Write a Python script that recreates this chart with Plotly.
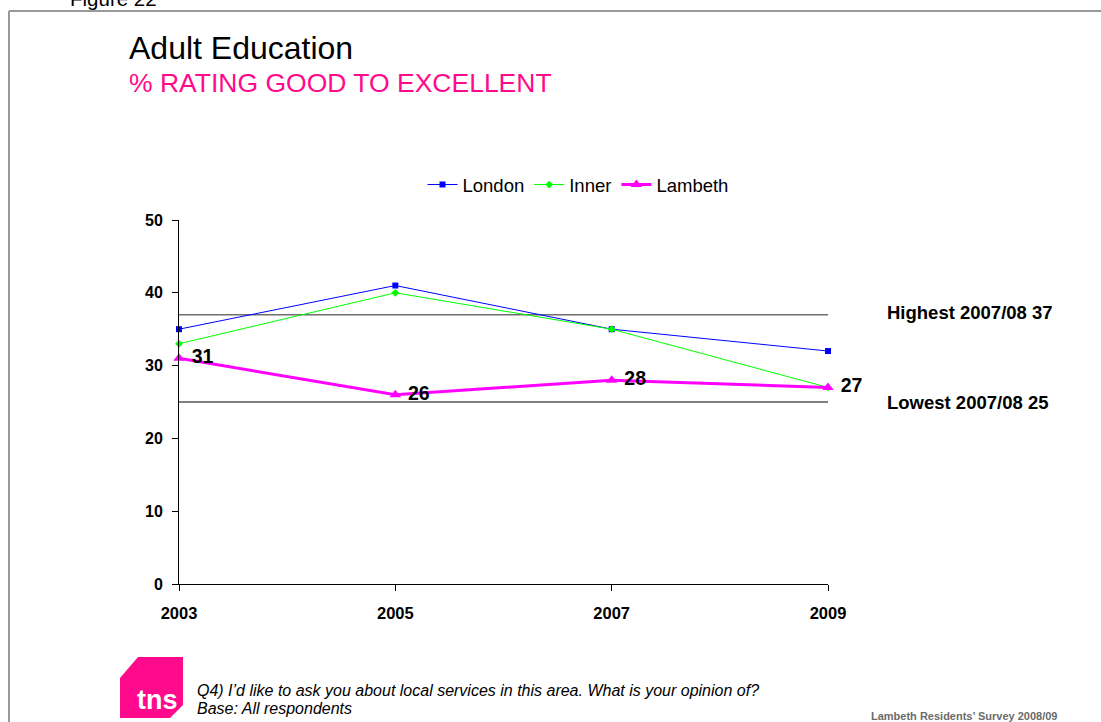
import plotly.graph_objects as go

# Survey years and series values (% rating good to excellent)
years = [2003, 2005, 2007, 2009]
london = [35, 41, 35, 32]
inner = [33, 40, 35, 27]
lambeth = [31, 26, 28, 27]

# Benchmark lines for 2007/08
highest_0708 = 37
lowest_0708 = 25

W, H = 1101, 722
L, R, T, B = 179, 828, 220, 584  # plot area in pixels

FONT = "Arial, Liberation Sans, sans-serif"


def px(x):
    return (x - L) / (R - L)


def py(y):
    return (B - y) / (B - T)


fig = go.Figure()

# Reference lines
fig.add_trace(go.Scatter(
    x=[years[0], years[-1]], y=[highest_0708, highest_0708], mode="lines",
    line=dict(color="#6e6e6e", width=1.5), showlegend=False, hoverinfo="skip"))
fig.add_trace(go.Scatter(
    x=[years[0], years[-1]], y=[lowest_0708, lowest_0708], mode="lines",
    line=dict(color="#000000", width=1), showlegend=False, hoverinfo="skip"))

fig.add_trace(go.Scatter(
    x=years, y=london, name="London", mode="lines+markers",
    line=dict(color="#0000ff", width=1),
    marker=dict(symbol="square", size=6, color="#0000ff")))
fig.add_trace(go.Scatter(
    x=years, y=inner, name="Inner", mode="lines+markers",
    line=dict(color="#00ff00", width=1),
    marker=dict(symbol="diamond", size=6, color="#00ff00")))
fig.add_trace(go.Scatter(
    x=years, y=lambeth, name="Lambeth", mode="lines+markers+text",
    line=dict(color="#ff00ff", width=3),
    marker=dict(symbol="triangle-up", size=10, color="#ff00ff"),
    text=[f" {v}" for v in lambeth], textposition="middle right",
    textfont=dict(family=FONT, size=19.5, color="#000000", weight="bold")))

annotations = [
    dict(text="Figure 22", x=px(68), y=py(-1), xanchor="left", yanchor="middle",
         font=dict(family=FONT, size=20.5, color="#000000")),
    dict(text="Adult Education", x=px(127), y=py(48.5), xanchor="left", yanchor="middle",
         font=dict(family=FONT, size=32, color="#000000")),
    dict(text="% RATING GOOD TO EXCELLENT", x=px(127), y=py(83), xanchor="left",
         yanchor="middle", font=dict(family=FONT, size=26.5, color="#ff0a8c")),
    dict(text=f"Highest 2007/08 {highest_0708}", x=px(885), y=py(312), xanchor="left",
         yanchor="middle", font=dict(family=FONT, size=18.5, color="#000000", weight="bold")),
    dict(text=f"Lowest 2007/08 {lowest_0708}", x=px(885), y=py(402), xanchor="left",
         yanchor="middle", font=dict(family=FONT, size=18.5, color="#000000", weight="bold")),
    dict(text="Q4) I\u2019d like to ask you about local services in this area. What is your opinion of?",
         x=px(195), y=py(690), xanchor="left", yanchor="middle",
         font=dict(family=FONT, size=16, color="#000000", style="italic")),
    dict(text="Base: All respondents", x=px(195), y=py(708), xanchor="left", yanchor="middle",
         font=dict(family=FONT, size=16, color="#000000", style="italic")),
    dict(text="Lambeth Residents\u2019 Survey 2008/09", x=px(1059), y=py(716), xanchor="right",
         yanchor="middle", font=dict(family=FONT, size=11, color="#6b6b6b", weight="bold")),
    dict(text="tns", x=px(135), y=py(700), xanchor="left", yanchor="middle",
         font=dict(family=FONT, size=27, color="#ffffff", weight="bold")),
]
for a in annotations:
    a.update(xref="paper", yref="paper", showarrow=False)

# Logo tile with clipped corners
logo_pts = [(120, 678), (138, 657), (183, 657), (183, 705), (170, 718), (120, 718)]
logo_path = "M " + " L ".join(f"{px(x)},{py(y)}" for x, y in logo_pts) + " Z"

shapes = [
    # page frame
    dict(type="line", xref="paper", yref="paper", x0=px(9), x1=px(1101), y0=py(11), y1=py(11),
         line=dict(color="#999999", width=2)),
    dict(type="line", xref="paper", yref="paper", x0=px(9), x1=px(9), y0=py(11), y1=py(722),
         line=dict(color="#999999", width=2)),
    dict(type="path", xref="paper", yref="paper", path=logo_path,
         fillcolor="#ff0a8c", line=dict(width=0), layer="below"),
]

fig.update_layout(
    width=W, height=H,
    margin=dict(l=L, r=W - R, t=T, b=H - B, pad=0),
    paper_bgcolor="#ffffff", plot_bgcolor="#ffffff",
    font=dict(family=FONT, color="#000000"),
    showlegend=True,
    legend=dict(orientation="h", x=px(578), y=py(185), xanchor="center", yanchor="middle",
                font=dict(family=FONT, size=18.5, color="#000000"), itemwidth=30,
                traceorder="normal", bgcolor="rgba(0,0,0,0)"),
    annotations=annotations,
    shapes=shapes,
    xaxis=dict(range=[years[0], years[-1]], tickvals=years, ticktext=[str(y) for y in years],
               showgrid=False, zeroline=False, showline=True, linecolor="#000000", linewidth=1,
               ticks="outside", ticklen=6, tickcolor="#000000", ticklabelstandoff=8,
               tickfont=dict(family=FONT, size=16.5, color="#000000", weight="bold")),
    yaxis=dict(range=[0, 50], tickvals=[0, 10, 20, 30, 40, 50], showgrid=False, zeroline=False,
               showline=True, linecolor="#000000", linewidth=1, ticks="outside", ticklen=6,
               tickcolor="#000000", ticklabelstandoff=6,
               tickfont=dict(family=FONT, size=16, color="#000000", weight="bold")),
)

fig.update_traces(cliponaxis=False)

fig.write_html("out.html")
